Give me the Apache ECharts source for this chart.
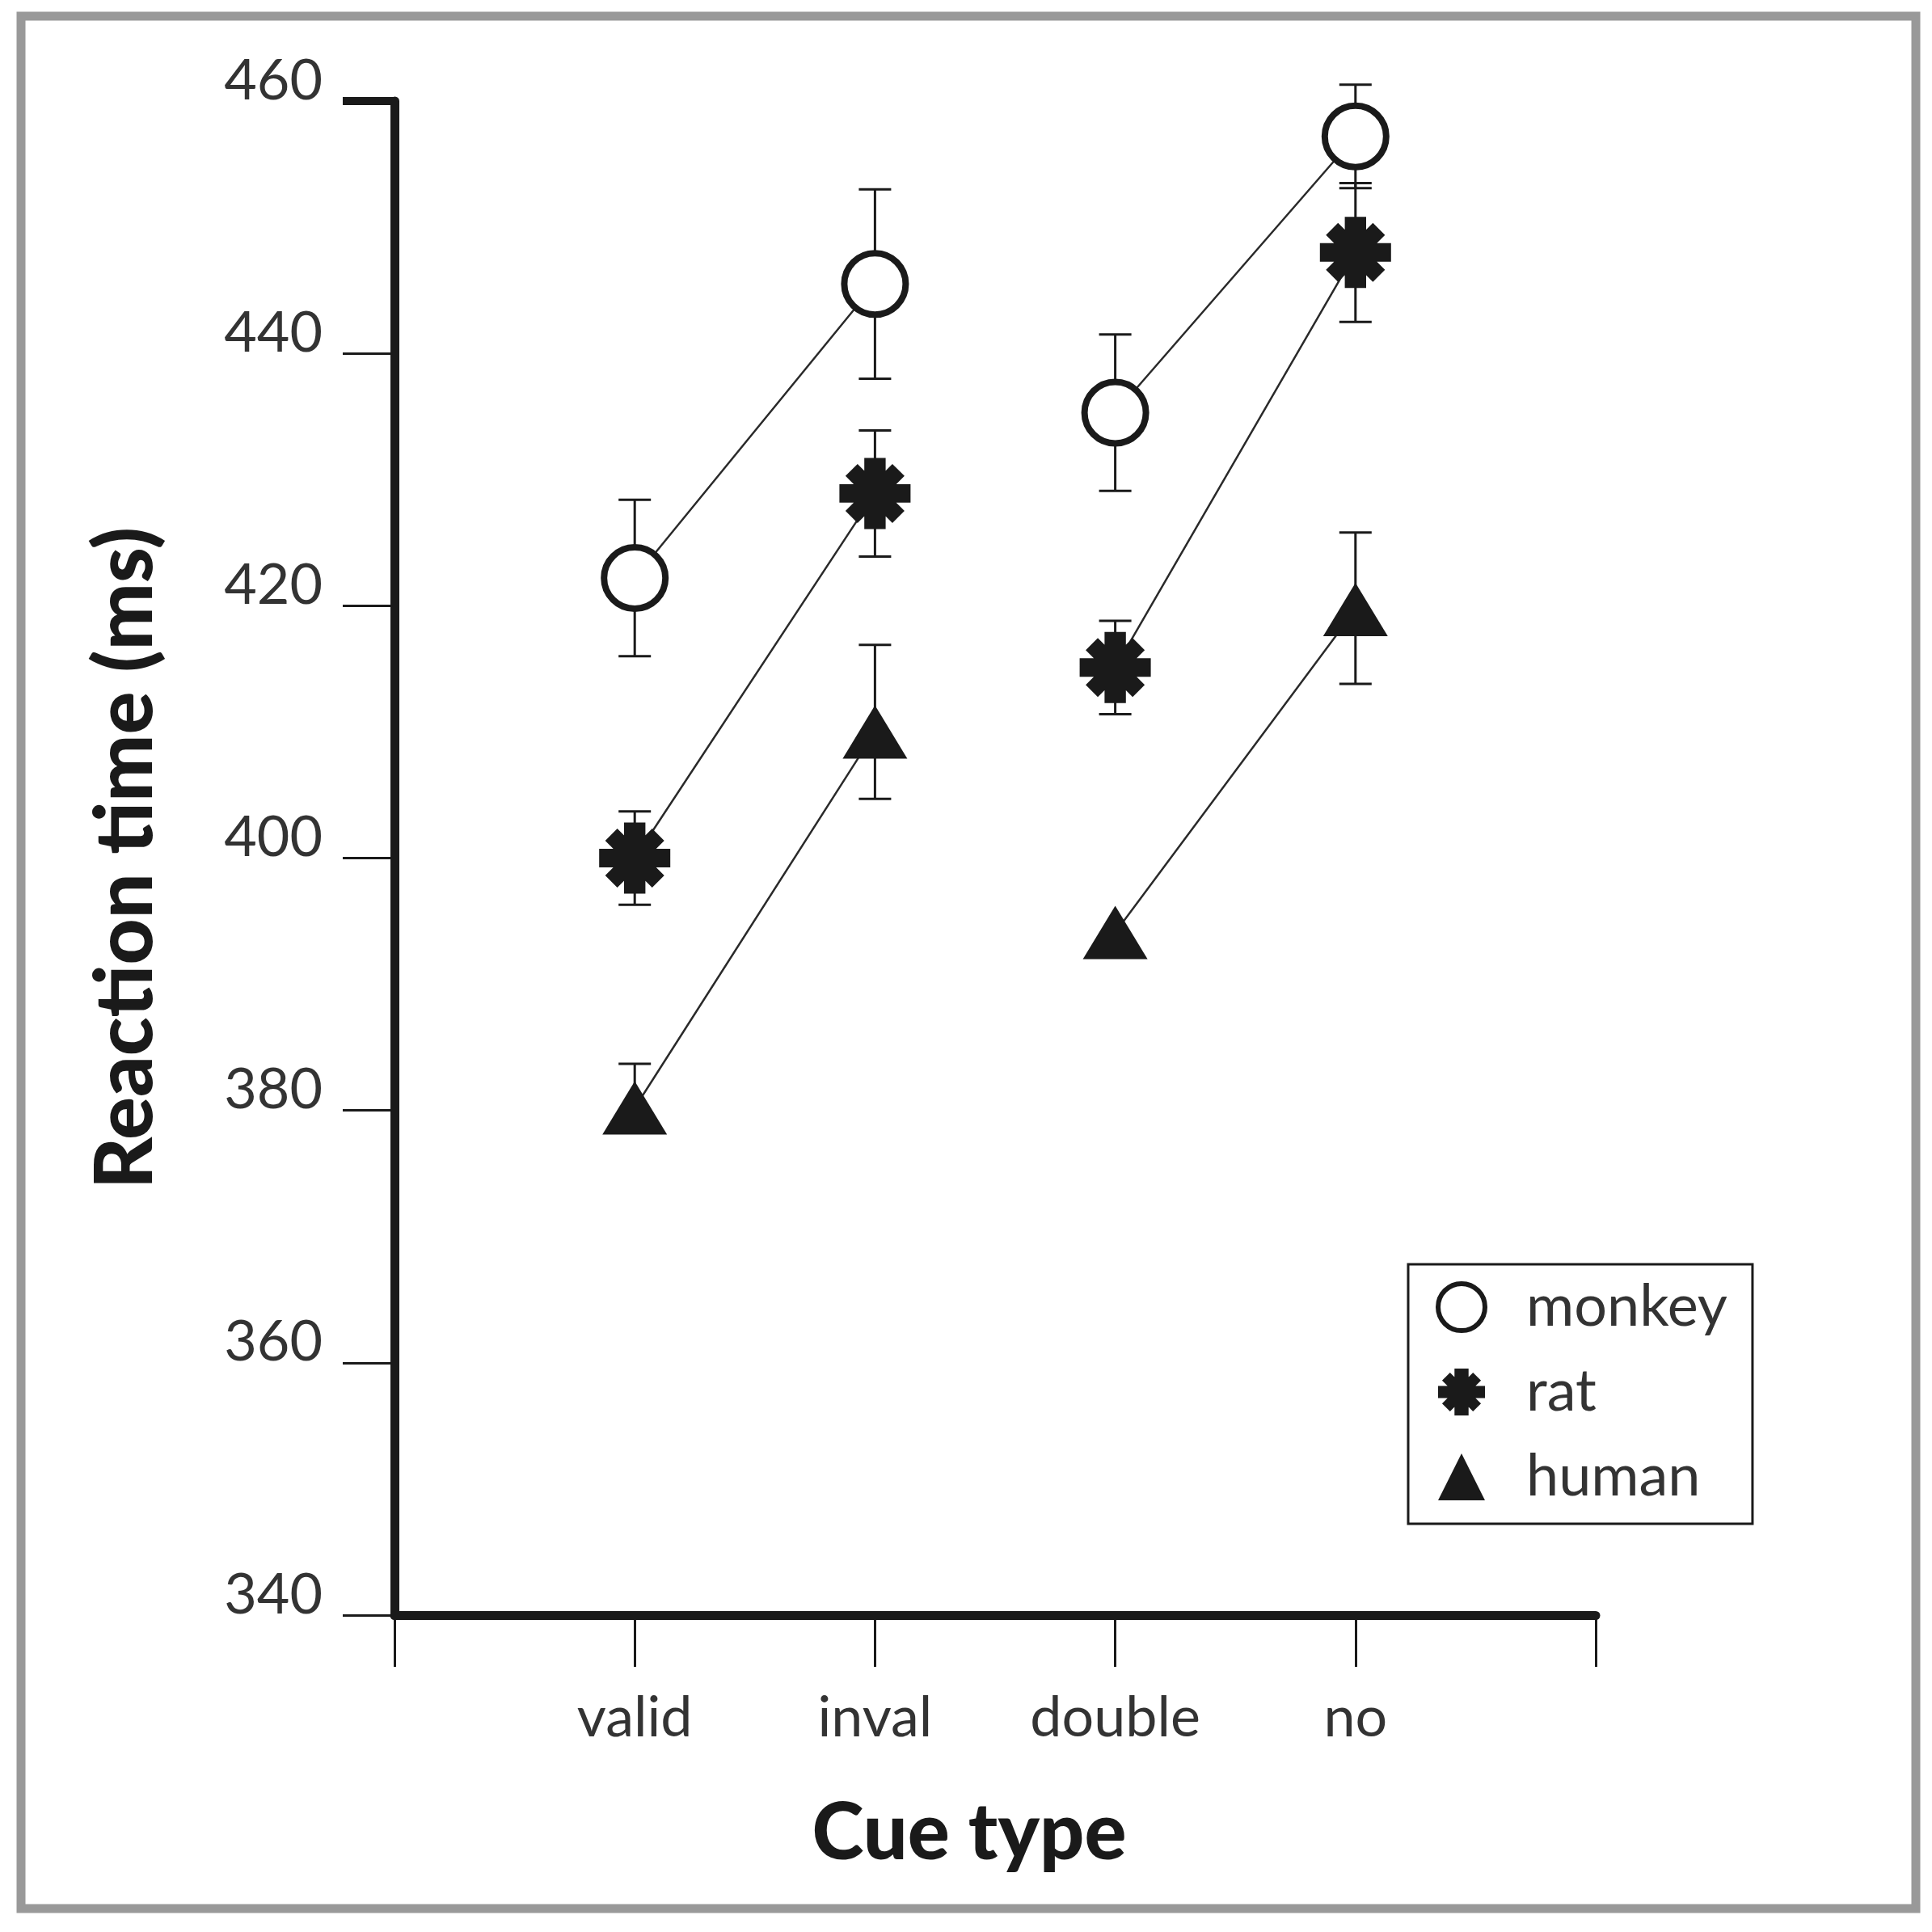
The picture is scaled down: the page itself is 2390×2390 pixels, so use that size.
<!DOCTYPE html>
<html>
<head>
<meta charset="utf-8">
<script src="https://cdn.jsdelivr.net/npm/echarts@6/dist/echarts.min.js"></script>
<style>
  html, body { margin: 0; padding: 0; background: #fff; }
  #chart { width: 2390px; height: 2390px; }
</style>
</head>
<body>
<div id="chart"></div>
<script>
// values (reaction time in ms, error = length of bar above / below the mean)
const cueTypes = ['valid', 'inval', 'double', 'no'];
const monkeyRT = [422.2, 445.5, 435.3, 457.2];
const monkeyErr = [6.2, 7.5, 6.2, 4.1];
const ratRT = [400.0, 428.9, 415.1, 448.0];
const ratErr = [3.7, 5.0, 3.7, 5.5];
const humanRT = [380.2, 410.0, 394.1, 419.7];
const humanErrUp = [3.5, 6.9, 0, 6.1];
const humanErrDown = [0, 5.3, 0, 5.9];

const ink = '#1a1a1a';
const asterisk = 'path://M35 0L65 0L65 100L35 100Z M0 37L100 37L100 63L0 63Z ' +
  'M8.5 25.5L25.5 8.5L91.5 74.5L74.5 91.5Z M74.5 8.5L91.5 25.5L25.5 91.5L8.5 74.5Z';

// valid-inval and double-no are joined, with a break in between
const toLine = (vals) => [[1, vals[0]], [2, vals[1]], [2.5, '-'], [3, vals[2]], [4, vals[3]]];

function lineSeries(name, vals, symbol, size, itemStyle) {
  return {
    name: name,
    type: 'line',
    z: 3,
    data: toLine(vals),
    symbol: symbol,
    symbolSize: size,
    showSymbol: true,
    connectNulls: false,
    lineStyle: { color: '#2a2a2a', width: 2.5 },
    itemStyle: itemStyle,
    emphasis: { disabled: true },
    animation: false
  };
}

function errorSeries(name, vals, errUp, errDown) {
  errDown = errDown || errUp;
  return {
    name: name + ' error',
    type: 'custom',
    z: 2,
    silent: true,
    animation: false,
    data: vals.map((v, i) => [i + 1, v, v - errDown[i], v + errUp[i]]),
    renderItem: function (params, api) {
      const mid = api.coord([api.value(0), api.value(1)]);
      const lo = api.coord([api.value(0), api.value(2)]);
      const hi = api.coord([api.value(0), api.value(3)]);
      const w = 20;
      const style = { stroke: ink, lineWidth: 3 };
      const parts = [];
      [hi, lo].forEach(function (end) {
        if (Math.abs(end[1] - mid[1]) < 1) return;
        parts.push({ type: 'line', shape: { x1: mid[0], y1: mid[1], x2: end[0], y2: end[1] }, style: style });
        parts.push({ type: 'line', shape: { x1: end[0] - w, y1: end[1], x2: end[0] + w, y2: end[1] }, style: style });
      });
      return { type: 'group', children: parts };
    }
  };
}

var chartDom = document.getElementById('chart');
var myChart = echarts.init(chartDom);
var option;

option = {
  backgroundColor: '#fff',
  animation: false,
  grid: { left: 488, right: 416, top: 125, bottom: 392 },
  xAxis: {
    type: 'value',
    min: 0,
    max: 5,
    interval: 1,
    name: 'Cue type',
    nameLocation: 'middle',
    nameGap: 222,
    nameTextStyle: {
      fontFamily: 'Lato', fontWeight: 900, fontSize: 97, color: ink,
      lineHeight: 97, padding: [0, 64, 0, 0]
    },
    axisLine: { lineStyle: { color: ink, width: 11 } },
    axisTick: { length: 64, lineStyle: { color: ink, width: 3 } },
    axisLabel: {
      formatter: (v) => cueTypes[v - 1] || '',
      margin: 92,
      verticalAlign: 'top',
      fontFamily: 'Lato', fontSize: 70, lineHeight: 70, color: '#333'
    },
    splitLine: { show: false }
  },
  yAxis: {
    type: 'value',
    min: 340,
    max: 460,
    interval: 20,
    name: 'Reaction time (ms)',
    nameLocation: 'middle',
    nameRotate: 90,
    nameGap: 282,
    nameTextStyle: {
      fontFamily: 'Lato', fontWeight: 900, fontSize: 99, color: ink, lineHeight: 99
    },
    axisLine: { lineStyle: { color: ink, width: 11 } },
    axisTick: { length: 64, lineStyle: { color: ink, width: 3 } },
    axisLabel: {
      margin: 89,
      verticalAlign: 'bottom',
      lineHeight: 50,
      fontFamily: 'Lato', fontSize: 70, color: '#333'
    },
    splitLine: { show: false }
  },
  legend: {
    orient: 'vertical',
    left: 1742,
    top: 1564,
    padding: [17, 31, 22, 34],
    borderColor: ink,
    borderWidth: 3,
    backgroundColor: '#fff',
    itemWidth: 58,
    itemHeight: 58,
    itemGap: 33,
    selectedMode: false,
    textStyle: {
      fontFamily: 'Lato', fontSize: 72, lineHeight: 58, color: '#333',
      padding: [0, 0, 0, 46]
    },
    data: [
      { name: 'monkey', icon: 'circle', itemStyle: { color: '#fff', borderColor: ink, borderWidth: 6 } },
      { name: 'rat', icon: asterisk, itemStyle: { color: ink, borderWidth: 0 } },
      { name: 'human', icon: 'triangle', itemStyle: { color: ink, borderWidth: 0 } }
    ]
  },
  series: [
    errorSeries('monkey', monkeyRT, monkeyErr),
    errorSeries('rat', ratRT, ratErr),
    errorSeries('human', humanRT, humanErrUp, humanErrDown),
    lineSeries('monkey', monkeyRT, 'circle', 76, { color: '#fff', borderColor: ink, borderWidth: 8 }),
    lineSeries('rat', ratRT, asterisk, 88, { color: ink, borderWidth: 0 }),
    lineSeries('human', humanRT, 'triangle', [80, 66], { color: ink, borderWidth: 0 })
  ]
};

myChart.setOption(option);

// thick stub at the top tick and the grey picture frame
const topTick = myChart.convertToPixel({ gridIndex: 0 }, [0, 460]);
myChart.setOption({
  graphic: [
    {
      type: 'line',
      shape: { x1: topTick[0] - 64, y1: topTick[1], x2: topTick[0], y2: topTick[1] },
      style: { stroke: ink, lineWidth: 10 }
    },
    {
      type: 'rect',
      shape: { x: 26, y: 20, width: 2344, height: 2341 },
      style: { fill: null, stroke: '#999', lineWidth: 11 }
    }
  ]
});
</script>
</body>
</html>
